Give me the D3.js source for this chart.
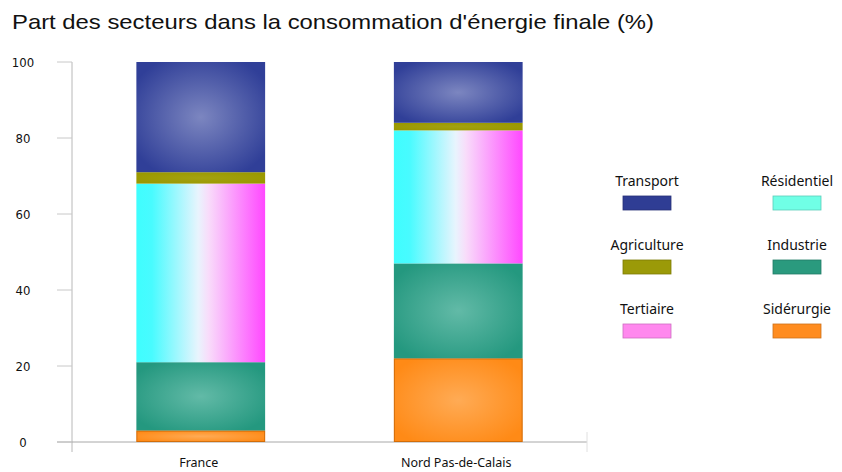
<!DOCTYPE html>
<meta charset="utf-8">
<script src="https://d3js.org/d3.v7.min.js"></script>
<style>
  body { margin: 0; background: #fff; }
  text { font-family: "Noto Sans", sans-serif; fill: #111; }
</style>
<div id="chart"></div>
<script>

// data
var regions = ["France", "Nord Pas-de-Calais"];
var stackKeys = ["Sidérurgie", "Industrie", "Résidentiel-Tertiaire", "Agriculture", "Transport"];
var franceValues = [3, 18, 47, 3, 29];
var npdcValues = [22, 25, 35, 2, 16];
var yTicks = [0, 20, 40, 60, 80, 100];
var legendLabels = ["Transport", "Résidentiel", "Agriculture", "Industrie", "Tertiaire", "Sidérurgie"];
var legendColors = ["#2f3d94", "#70ffe6", "#9b9a08", "#2a9a7e", "#ff88ee", "#ff8c1f"];

var width = 842, height = 472;
var margin = {top: 62, left: 72, right: 255, bottom: 30};
var plotW = width - margin.left - margin.right,
    plotH = height - margin.top - margin.bottom;

var svg = d3.select("#chart").append("svg")
    .attr("width", width)
    .attr("height", height);

// title
svg.append("text")
    .attr("x", 12)
    .attr("y", 29)
    .style("font-family", "'Liberation Sans', Arial, sans-serif")
    .style("font-size", "21px")
    .attr("textLength", 642)
    .attr("lengthAdjust", "spacingAndGlyphs")
    .text("Part des secteurs dans la consommation d'énergie finale (%)");

// gradients
var defs = svg.append("defs");
function radial(id, inner, outer) {
  var g = defs.append("radialGradient").attr("id", id)
      .attr("cx", "50%").attr("cy", "50%").attr("r", "60%");
  g.append("stop").attr("offset", "0%").attr("stop-color", inner);
  g.append("stop").attr("offset", "100%").attr("stop-color", outer);
}
radial("gTransport", "#7c86c0", "#303f98");
radial("gIndustrie", "#62baa7", "#24987f");
radial("gSiderurgie", "#ffab55", "#ff8a16");
radial("gAgriculture", "#a3a210", "#9a9800");
var lin = defs.append("linearGradient").attr("id", "gResTer")
    .attr("x1", "0%").attr("x2", "100%").attr("y1", "0%").attr("y2", "0%");
[["0%", "#3ffefe"], ["12%", "#48fbff"], ["48%", "#e8f4fd"], ["56%", "#f8dcfa"], ["100%", "#ff48ff"]]
  .forEach(function(s) { lin.append("stop").attr("offset", s[0]).attr("stop-color", s[1]); });

var fills = {
  "Sidérurgie": "url(#gSiderurgie)",
  "Industrie": "url(#gIndustrie)",
  "Résidentiel-Tertiaire": "url(#gResTer)",
  "Agriculture": "url(#gAgriculture)",
  "Transport": "url(#gTransport)"
};

var g = svg.append("g").attr("transform", "translate(" + margin.left + "," + margin.top + ")");

var x = d3.scaleBand().domain(regions).range([0, plotW])
    .paddingInner(0.5).paddingOuter(0.25);
var y = d3.scaleLinear().domain([0, 100]).range([plotH, 0]);

// table for stack
var table = regions.map(function(r, i) {
  var vals = i === 0 ? franceValues : npdcValues;
  var row = {region: r};
  stackKeys.forEach(function(k, j) { row[k] = vals[j]; });
  return row;
});
var series = d3.stack().keys(stackKeys)(table);

// axes
g.append("line").attr("x1", 0).attr("x2", 0).attr("y1", 0).attr("y2", plotH + 10)
    .attr("stroke", "#b8b8b8");
g.append("line").attr("x1", -15).attr("x2", plotW).attr("y1", plotH).attr("y2", plotH)
    .attr("stroke", "#a8a8a8");
g.append("line").attr("x1", plotW).attr("x2", plotW).attr("y1", plotH - 10).attr("y2", plotH + 10)
    .attr("stroke", "#e0e0e0");
g.selectAll(".ytick").data(yTicks).enter().append("line")
    .attr("x1", -15).attr("x2", 0)
    .attr("y1", function(d) { return y(d); }).attr("y2", function(d) { return y(d); })
    .attr("stroke", "#c8c8c8");
g.selectAll(".ylab").data(yTicks).enter().append("text")
    .attr("x", -49)
    .attr("y", function(d) { return y(d); })
    .attr("dy", "0.35em")
    .attr("text-anchor", "middle")
    .style("font-family", "'DejaVu Sans Condensed', sans-serif")
    .style("font-size", "13px")
    .text(function(d) { return d; });

// bars
g.selectAll(".layer").data(series).enter().append("g")
    .attr("fill", function(d) { return fills[d.key]; })
  .selectAll("rect").data(function(d) { return d; }).enter().append("rect")
    .attr("x", function(d) { return x(d.data.region); })
    .attr("width", x.bandwidth())
    .attr("y", function(d) { return y(d[1]); })
    .attr("height", function(d) { return y(d[0]) - y(d[1]); });

// thin outline on the bottom segment
g.selectAll(".sid").data(series[0]).enter().append("rect")
    .attr("x", function(d) { return x(d.data.region) + 0.5; })
    .attr("width", x.bandwidth() - 1)
    .attr("y", function(d) { return y(d[1]) + 0.5; })
    .attr("height", function(d) { return y(d[0]) - y(d[1]) - 1; })
    .attr("fill", "none")
    .attr("stroke", "#b55a00")
    .attr("stroke-opacity", 0.6);

// category labels
g.selectAll(".xlab").data(regions).enter().append("text")
    .attr("x", function(d) { return x(d) + x.bandwidth() / 2 - 2; })
    .attr("y", plotH + 25)
    .attr("text-anchor", "middle")
    .style("font-size", "12.5px")
    .text(function(d) { return d; });

// legend
var legend = svg.selectAll(".leg").data(legendLabels).enter().append("g")
    .attr("transform", function(d, i) {
      return "translate(" + (647 + (i % 2) * 150) + "," + (186 + Math.floor(i / 2) * 64) + ")";
    });
legend.append("text")
    .attr("text-anchor", "middle")
    .style("font-size", "14px")
    .text(function(d) { return d; });
legend.append("rect")
    .attr("x", -24).attr("y", 10)
    .attr("width", 48).attr("height", 14)
    .attr("fill", function(d, i) { return legendColors[i]; })
    .attr("stroke", function(d, i) { return d3.color(legendColors[i]).darker(0.6); })
    .attr("stroke-width", 0.8);

</script>
